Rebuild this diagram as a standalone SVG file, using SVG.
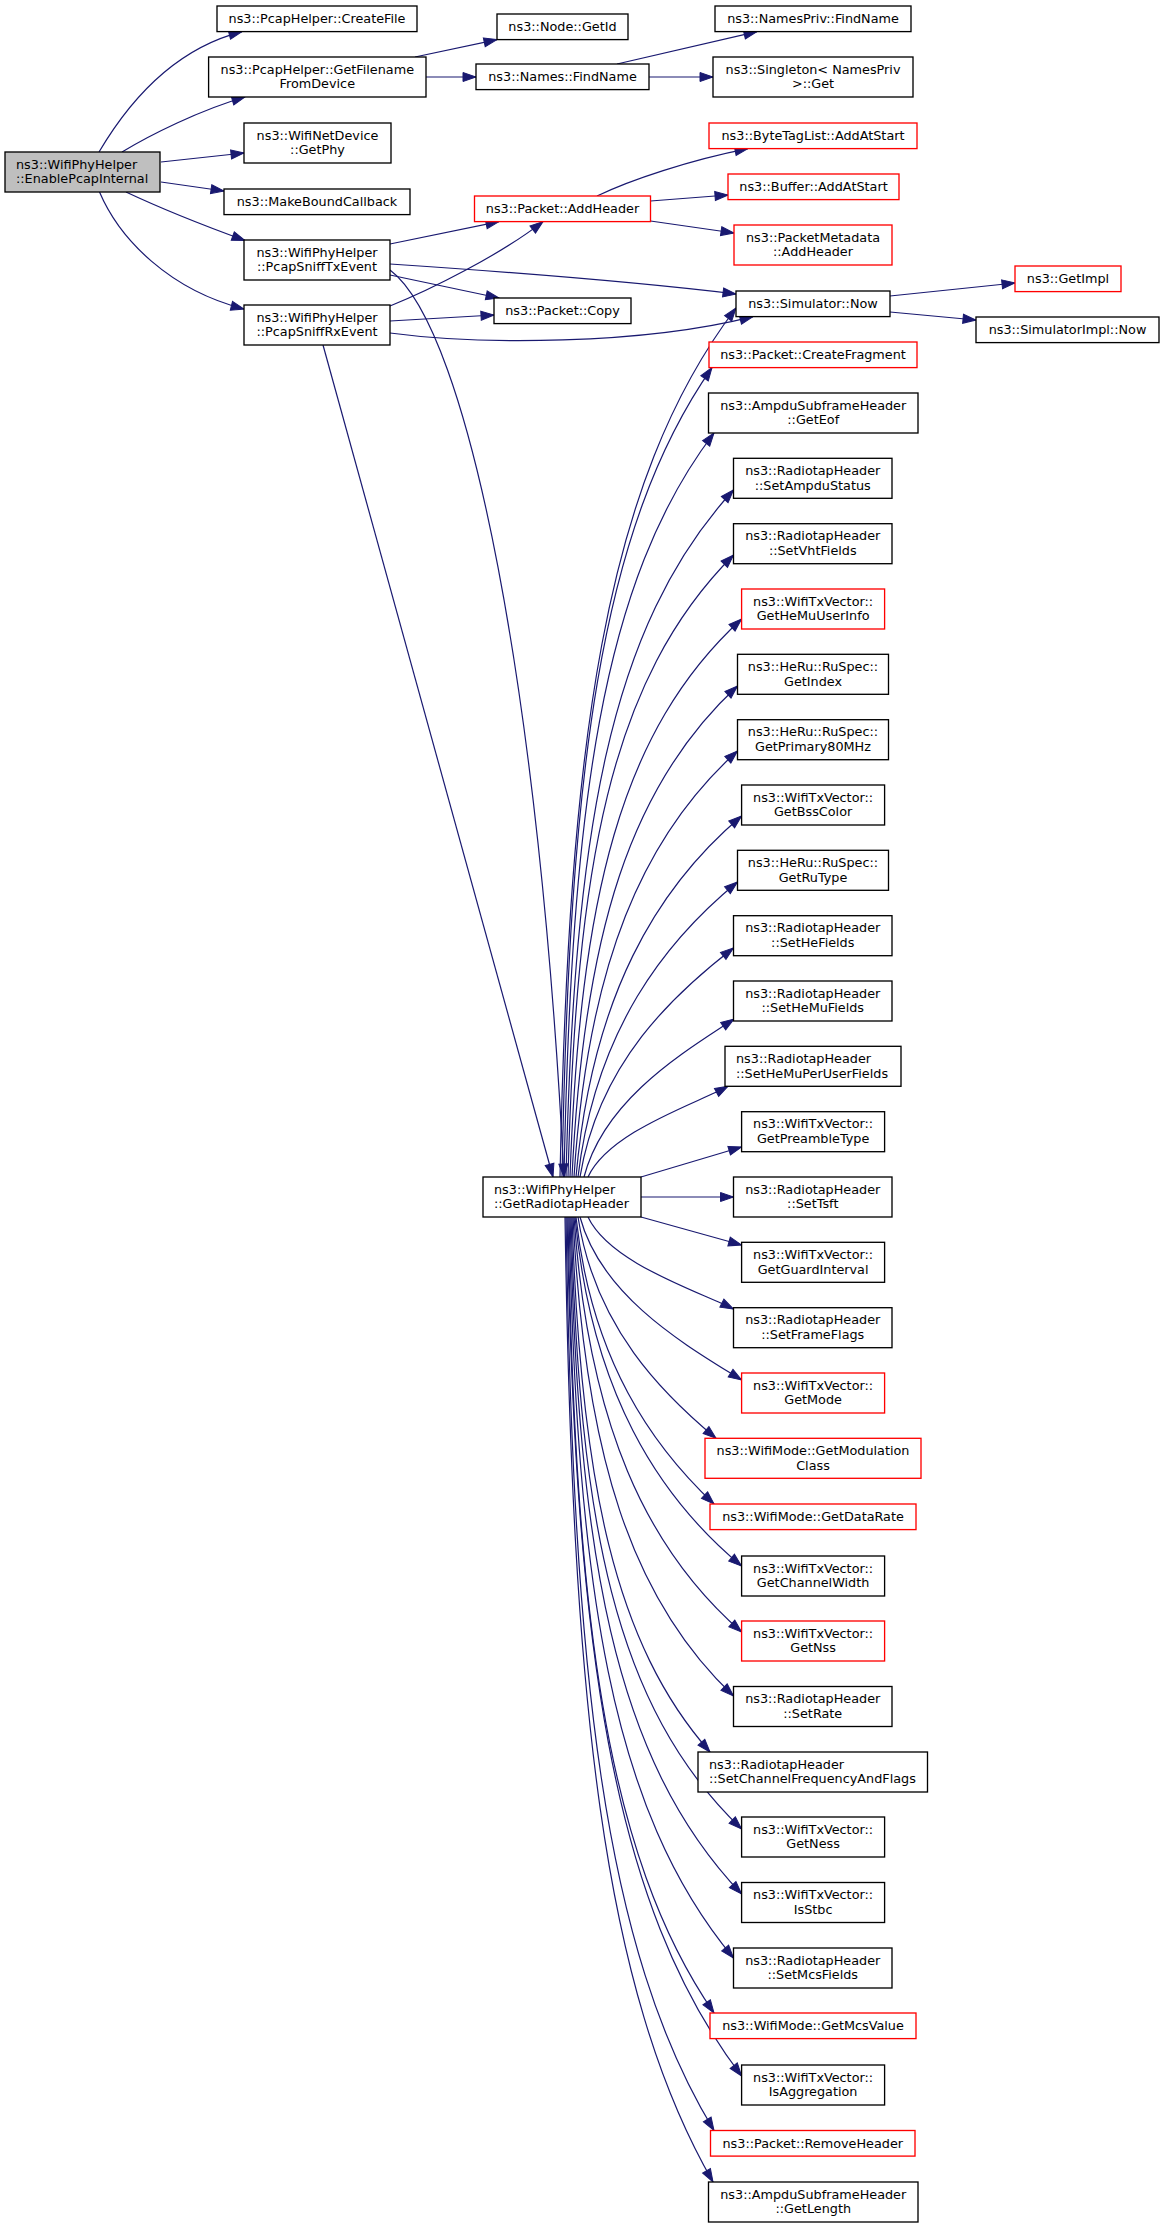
<svg xmlns="http://www.w3.org/2000/svg" width="1165" height="2228" viewBox="0 0 1165 2228">
<style>
.n{fill:#ffffff;stroke:#000000;stroke-width:1.33}
.r{fill:#ffffff;stroke:#ff0000;stroke-width:1.33}
.g{fill:#bfbfbf;stroke:#000000;stroke-width:1.33}
text{font-family:"DejaVu Sans","Liberation Sans",sans-serif;font-size:12.8px;fill:#000000}
.c{text-anchor:middle}
.e{fill:none;stroke:#191970;stroke-width:1.2;marker-end:url(#a)}
</style>
<defs>
<marker id="a" markerUnits="userSpaceOnUse" markerWidth="14" markerHeight="10" refX="13" refY="4.5" orient="auto" viewBox="0 0 14 10" overflow="visible">
<path d="M0,0 L13,4.5 L0,9 z" fill="#191970" stroke="#191970" stroke-width="1"/>
</marker>
</defs>
<rect x="0" y="0" width="1165" height="2228" fill="#ffffff"/>
<g id="edges">
<path class="e" d="M99,152 C125,108 170,50 242,31.6"/>
<path class="e" d="M122,152 C150,135 200,110 245,97"/>
<path class="e" d="M161,162 L244,153"/>
<path class="e" d="M161,182 L224,191"/>
<path class="e" d="M126,192 C160,208 205,226 245,240.5"/>
<path class="e" d="M99.5,192 C120,240 170,290 244,309"/>
<path class="e" d="M415,57 L497,39.6"/>
<path class="e" d="M426,77 L476,77"/>
<path class="e" d="M617,64 L757,31.6"/>
<path class="e" d="M649,77 L713,77"/>
<path class="e" d="M390,244 L499,221.6"/>
<path class="e" d="M390,264 C480,270 620,280 736,294"/>
<path class="e" d="M390,275 L499,298"/>
<path class="e" d="M390,270 C470,330 540,700 564,1177"/>
<path class="e" d="M390,306 C430,290 500,255 543,221.6"/>
<path class="e" d="M390,321 L494,315"/>
<path class="e" d="M390,333 C480,345 640,345 753,316.6"/>
<path class="e" d="M323,345 L553,1177"/>
<path class="e" d="M597,196 C630,180 690,160 748,148.6"/>
<path class="e" d="M650.5,201 L728,195"/>
<path class="e" d="M650.5,221 L734,233"/>
<path class="e" d="M890,296 L1015,283"/>
<path class="e" d="M890,312 L976,320"/>
<path class="e" d="M560,1177 C568.8,742.5 604,481.8 736,308"/>
<path class="e" d="M562,1177 C569.5,772 599.5,529 712,367.6"/>
<path class="e" d="M564,1177 C571.5,804.5 601.5,581 714,433"/>
<path class="e" d="M566,1177 C574.4,833.5 607.9,627.4 733.5,490"/>
<path class="e" d="M568,1177 C576.3,866 609.4,679.4 733.5,555"/>
<path class="e" d="M570,1177 C580,898 620,730.6 741.6,619"/>
<path class="e" d="M572,1177 C583.8,931.5 631.1,784.2 737.5,686"/>
<path class="e" d="M574,1177 C587.8,964 642.8,836.2 737.5,751"/>
<path class="e" d="M576,1177 C592,996.5 656.2,888.2 741.6,816"/>
<path class="e" d="M578,1177 C595.5,1029.5 665.6,941 737.5,882"/>
<path class="e" d="M580,1177 C598.9,1062.5 674.2,993.8 733.5,948"/>
<path class="e" d="M584,1177 C604.5,1098 686.5,1050.6 734,1019"/>
<path class="e" d="M588,1177 C609,1132 693,1105 728,1086.3"/>
<path class="e" d="M641,1177 L741.6,1147"/>
<path class="e" d="M641,1197 L733.5,1197"/>
<path class="e" d="M641,1217 L741.6,1245"/>
<path class="e" d="M588,1217 C609.8,1263 696.8,1290.6 733.5,1309"/>
<path class="e" d="M580,1217 C601.9,1298.5 689.6,1347.4 741.6,1380"/>
<path class="e" d="M578,1217 C595.1,1328 663.6,1394.6 716,1438.3"/>
<path class="e" d="M576,1217 C591.4,1360.5 652.9,1446.6 714,1504"/>
<path class="e" d="M575,1217 C591.5,1391.5 657.6,1496.2 741.6,1566"/>
<path class="e" d="M574,1217 C588.5,1424.5 646.3,1549 741.6,1632"/>
<path class="e" d="M573,1217 C584.8,1456.5 632.1,1600.2 733.5,1696"/>
<path class="e" d="M572,1217 C580.7,1484.5 615.3,1645 710,1752"/>
<path class="e" d="M571,1217 C579.5,1523 613.7,1706.6 741.6,1829"/>
<path class="e" d="M570,1217 C578.6,1555.5 612.9,1758.6 741.6,1894"/>
<path class="e" d="M569,1217 C577.2,1587.5 610.1,1809.8 733.5,1958"/>
<path class="e" d="M568,1217 C575.3,1615 604.5,1853.8 714,2013"/>
<path class="e" d="M567,1217 C575.7,1646.5 610.7,1904.2 741.6,2076"/>
<path class="e" d="M566,1217 C573.4,1674 603,1948.2 714,2130.5"/>
<path class="e" d="M565,1217 C572.4,1699.5 602,1989 713,2182"/>
</g>
<g id="node-EnablePcapInternal"><rect class="g" x="5" y="152" width="155" height="40"/><text x="16" y="168.7">ns3::WifiPhyHelper</text><text x="16" y="183.3">::EnablePcapInternal</text></g>
<g id="node-CreateFile"><rect class="n" x="217" y="6" width="200" height="25.6"/><text class="c" x="317" y="23.1">ns3::PcapHelper::CreateFile</text></g>
<g id="node-GetFilenameFromDevice"><rect class="n" x="208.6" y="57" width="217.4" height="40"/><text class="c" x="317.3" y="73.7">ns3::PcapHelper::GetFilename</text><text class="c" x="317.3" y="88.3">FromDevice</text></g>
<g id="node-GetPhy"><rect class="n" x="244" y="123" width="147" height="40"/><text class="c" x="317.5" y="139.7">ns3::WifiNetDevice</text><text class="c" x="317.5" y="154.3">::GetPhy</text></g>
<g id="node-MakeBoundCallback"><rect class="n" x="224" y="189" width="186" height="25.6"/><text class="c" x="317" y="206.1">ns3::MakeBoundCallback</text></g>
<g id="node-PcapSniffTxEvent"><rect class="n" x="244" y="240" width="146" height="40"/><text class="c" x="317" y="256.7">ns3::WifiPhyHelper</text><text class="c" x="317" y="271.3">::PcapSniffTxEvent</text></g>
<g id="node-PcapSniffRxEvent"><rect class="n" x="244" y="305" width="146" height="40"/><text class="c" x="317" y="321.7">ns3::WifiPhyHelper</text><text class="c" x="317" y="336.3">::PcapSniffRxEvent</text></g>
<g id="node-NodeGetId"><rect class="n" x="497" y="14" width="131" height="25.6"/><text class="c" x="562.5" y="31.1">ns3::Node::GetId</text></g>
<g id="node-NamesFindName"><rect class="n" x="476" y="64" width="173" height="25.6"/><text class="c" x="562.5" y="81.1">ns3::Names::FindName</text></g>
<g id="node-PacketAddHeader"><rect class="r" x="474.5" y="196" width="176" height="25.6"/><text class="c" x="562.5" y="213.1">ns3::Packet::AddHeader</text></g>
<g id="node-PacketCopy"><rect class="n" x="494" y="298" width="137" height="25.6"/><text class="c" x="562.5" y="315.1">ns3::Packet::Copy</text></g>
<g id="node-GetRadiotapHeader"><rect class="n" x="483" y="1177" width="158" height="40"/><text x="494" y="1193.7">ns3::WifiPhyHelper</text><text x="494" y="1208.3">::GetRadiotapHeader</text></g>
<g id="node-NamesPrivFindName"><rect class="n" x="715" y="6" width="196" height="25.6"/><text class="c" x="813" y="23.1">ns3::NamesPriv::FindName</text></g>
<g id="node-SingletonGet"><rect class="n" x="713" y="57" width="200" height="40"/><text class="c" x="813" y="73.7">ns3::Singleton&lt; NamesPriv</text><text class="c" x="813" y="88.3">&gt;::Get</text></g>
<g id="node-ByteTagListAddAtStart"><rect class="r" x="709" y="123" width="208" height="25.6"/><text class="c" x="813" y="140.1">ns3::ByteTagList::AddAtStart</text></g>
<g id="node-BufferAddAtStart"><rect class="r" x="728" y="174" width="171" height="25.6"/><text class="c" x="813.5" y="191.1">ns3::Buffer::AddAtStart</text></g>
<g id="node-PacketMetadataAddHeader"><rect class="r" x="734" y="225" width="158" height="40"/><text class="c" x="813" y="241.7">ns3::PacketMetadata</text><text class="c" x="813" y="256.3">::AddHeader</text></g>
<g id="node-SimulatorNow"><rect class="n" x="736" y="291" width="154" height="25.6"/><text class="c" x="813" y="308.1">ns3::Simulator::Now</text></g>
<g id="node-GetImpl"><rect class="r" x="1015" y="266" width="106" height="25.6"/><text class="c" x="1068" y="283.1">ns3::GetImpl</text></g>
<g id="node-SimulatorImplNow"><rect class="n" x="976" y="317" width="183" height="25.6"/><text class="c" x="1067.5" y="334.1">ns3::SimulatorImpl::Now</text></g>
<g id="node-CreateFragment"><rect class="r" x="709" y="342" width="208" height="25.6"/><text class="c" x="813" y="359.1">ns3::Packet::CreateFragment</text></g>
<g id="node-GetEof"><rect class="n" x="708.5" y="393" width="209.5" height="40"/><text class="c" x="813.25" y="409.7">ns3::AmpduSubframeHeader</text><text class="c" x="813.25" y="424.3">::GetEof</text></g>
<g id="node-SetAmpduStatus"><rect class="n" x="733.5" y="458.3" width="158.5" height="40"/><text class="c" x="812.75" y="475">ns3::RadiotapHeader</text><text class="c" x="812.75" y="489.6">::SetAmpduStatus</text></g>
<g id="node-SetVhtFields"><rect class="n" x="733.5" y="523.7" width="158.5" height="40"/><text class="c" x="812.75" y="540.4">ns3::RadiotapHeader</text><text class="c" x="812.75" y="555">::SetVhtFields</text></g>
<g id="node-GetHeMuUserInfo"><rect class="r" x="741.6" y="589" width="143" height="40"/><text class="c" x="813.1" y="605.7">ns3::WifiTxVector::</text><text class="c" x="813.1" y="620.3">GetHeMuUserInfo</text></g>
<g id="node-GetIndex"><rect class="n" x="737.5" y="654.3" width="151" height="40"/><text class="c" x="813" y="671">ns3::HeRu::RuSpec::</text><text class="c" x="813" y="685.6">GetIndex</text></g>
<g id="node-GetPrimary80MHz"><rect class="n" x="737.5" y="719.7" width="151" height="40"/><text class="c" x="813" y="736.4">ns3::HeRu::RuSpec::</text><text class="c" x="813" y="751">GetPrimary80MHz</text></g>
<g id="node-GetBssColor"><rect class="n" x="741.6" y="785" width="143" height="40"/><text class="c" x="813.1" y="801.7">ns3::WifiTxVector::</text><text class="c" x="813.1" y="816.3">GetBssColor</text></g>
<g id="node-GetRuType"><rect class="n" x="737.5" y="850.3" width="151" height="40"/><text class="c" x="813" y="867">ns3::HeRu::RuSpec::</text><text class="c" x="813" y="881.6">GetRuType</text></g>
<g id="node-SetHeFields"><rect class="n" x="733.5" y="915.7" width="158.5" height="40"/><text class="c" x="812.75" y="932.4">ns3::RadiotapHeader</text><text class="c" x="812.75" y="947">::SetHeFields</text></g>
<g id="node-SetHeMuFields"><rect class="n" x="733.5" y="981" width="158.5" height="40"/><text class="c" x="812.75" y="997.7">ns3::RadiotapHeader</text><text class="c" x="812.75" y="1012.3">::SetHeMuFields</text></g>
<g id="node-SetHeMuPerUserFields"><rect class="n" x="725" y="1046.3" width="176" height="40"/><text x="736" y="1063">ns3::RadiotapHeader</text><text x="736" y="1077.6">::SetHeMuPerUserFields</text></g>
<g id="node-GetPreambleType"><rect class="n" x="741.6" y="1111.7" width="143" height="40"/><text class="c" x="813.1" y="1128.4">ns3::WifiTxVector::</text><text class="c" x="813.1" y="1143">GetPreambleType</text></g>
<g id="node-SetTsft"><rect class="n" x="733.5" y="1177" width="158.5" height="40"/><text class="c" x="812.75" y="1193.7">ns3::RadiotapHeader</text><text class="c" x="812.75" y="1208.3">::SetTsft</text></g>
<g id="node-GetGuardInterval"><rect class="n" x="741.6" y="1242.3" width="143" height="40"/><text class="c" x="813.1" y="1259">ns3::WifiTxVector::</text><text class="c" x="813.1" y="1273.6">GetGuardInterval</text></g>
<g id="node-SetFrameFlags"><rect class="n" x="733.5" y="1307.7" width="158.5" height="40"/><text class="c" x="812.75" y="1324.4">ns3::RadiotapHeader</text><text class="c" x="812.75" y="1339">::SetFrameFlags</text></g>
<g id="node-GetMode"><rect class="r" x="741.6" y="1373" width="143" height="40"/><text class="c" x="813.1" y="1389.7">ns3::WifiTxVector::</text><text class="c" x="813.1" y="1404.3">GetMode</text></g>
<g id="node-GetModulationClass"><rect class="r" x="705" y="1438.3" width="216" height="40"/><text class="c" x="813" y="1455">ns3::WifiMode::GetModulation</text><text class="c" x="813" y="1469.6">Class</text></g>
<g id="node-GetDataRate"><rect class="r" x="710" y="1504" width="206" height="25.6"/><text class="c" x="813" y="1521.1">ns3::WifiMode::GetDataRate</text></g>
<g id="node-GetChannelWidth"><rect class="n" x="741.6" y="1556" width="143" height="40"/><text class="c" x="813.1" y="1572.7">ns3::WifiTxVector::</text><text class="c" x="813.1" y="1587.3">GetChannelWidth</text></g>
<g id="node-GetNss"><rect class="r" x="741.6" y="1621" width="143" height="40"/><text class="c" x="813.1" y="1637.7">ns3::WifiTxVector::</text><text class="c" x="813.1" y="1652.3">GetNss</text></g>
<g id="node-SetRate"><rect class="n" x="733.5" y="1686.5" width="158.5" height="40"/><text class="c" x="812.75" y="1703.2">ns3::RadiotapHeader</text><text class="c" x="812.75" y="1717.8">::SetRate</text></g>
<g id="node-SetChannelFrequencyAndFlags"><rect class="n" x="698" y="1752" width="229.5" height="40"/><text x="709" y="1768.7">ns3::RadiotapHeader</text><text x="709" y="1783.3">::SetChannelFrequencyAndFlags</text></g>
<g id="node-GetNess"><rect class="n" x="741.6" y="1817" width="143" height="40"/><text class="c" x="813.1" y="1833.7">ns3::WifiTxVector::</text><text class="c" x="813.1" y="1848.3">GetNess</text></g>
<g id="node-IsStbc"><rect class="n" x="741.6" y="1882.5" width="143" height="40"/><text class="c" x="813.1" y="1899.2">ns3::WifiTxVector::</text><text class="c" x="813.1" y="1913.8">IsStbc</text></g>
<g id="node-SetMcsFields"><rect class="n" x="733.5" y="1948" width="158.5" height="40"/><text class="c" x="812.75" y="1964.7">ns3::RadiotapHeader</text><text class="c" x="812.75" y="1979.3">::SetMcsFields</text></g>
<g id="node-GetMcsValue"><rect class="r" x="710" y="2013" width="206" height="25.6"/><text class="c" x="813" y="2030.1">ns3::WifiMode::GetMcsValue</text></g>
<g id="node-IsAggregation"><rect class="n" x="741.6" y="2065" width="143" height="40"/><text class="c" x="813.1" y="2081.7">ns3::WifiTxVector::</text><text class="c" x="813.1" y="2096.3">IsAggregation</text></g>
<g id="node-RemoveHeader"><rect class="r" x="710.5" y="2130.5" width="204.5" height="25.6"/><text class="c" x="812.75" y="2147.6">ns3::Packet::RemoveHeader</text></g>
<g id="node-GetLength"><rect class="n" x="708.5" y="2182" width="209.5" height="40"/><text class="c" x="813.25" y="2198.7">ns3::AmpduSubframeHeader</text><text class="c" x="813.25" y="2213.3">::GetLength</text></g>
</svg>
